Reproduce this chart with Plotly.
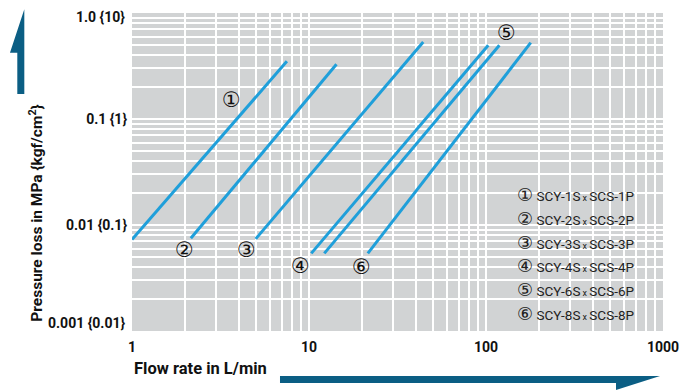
import math
import plotly.graph_objects as go

# 圧力損失特性 (log-log)
labels = ["①", "②", "③", "④", "⑤", "⑥"]
models = ["SCY-1S", "SCY-2S", "SCY-3S", "SCY-4S", "SCY-6S", "SCY-8S"]
partners = ["SCS-1P", "SCS-2P", "SCS-3P", "SCS-4P", "SCS-6P", "SCS-8P"]
flow_start = [1.0, 2.15, 5.0, 10.3, 12.2, 21.5]
flow_end = [7.5, 14.3, 44.2, 103, 119, 179]
dp_start = [0.0073, 0.0075, 0.0074, 0.0054, 0.0054, 0.0054]
dp_end = [0.350, 0.328, 0.532, 0.496, 0.496, 0.526]
# circled-number label anchor (flow, pressure)
label_flow = [3.66, 1.975, 4.41, 8.9, 131, 19.7]
label_dp = [0.152, 0.00577, 0.00577, 0.00408, 0.653, 0.00402]

x_ticks = [1, 10, 100, 1000]
x_ticktext = ["1", "10", "100", "1000"]
y_ticks = [0.01, 0.1]
y_ticktext = ["0.01 {0.1}", "0.1 {1}"]
# 上下端の目盛ラベルは枠内側に寄せて描く
y_edge_text = ["1.0 {10}", "0.001 {0.01}"]

BLUE = "#1f9fda"
NAVY = "#0b5e84"
GREY = "#d1d3d4"
FONT = "Roboto, Liberation Sans, sans-serif"
CIRC = "DejaVu Sans, Noto Sans CJK JP, sans-serif"


def full_grid(decades):
    vals = []
    for d in decades:
        for m in range(1, 10):
            vals.append(m * d)
    vals.append(decades[-1] * 10)
    return vals


xv = full_grid([1, 10, 100])
yv = full_grid([0.001, 0.01, 0.1])
xt = [x_ticktext[x_ticks.index(v)] if v in x_ticks else "" for v in xv]
yt = []
for v in yv:
    hit = [t for tv, t in zip(y_ticks, y_ticktext) if abs(tv - v) / tv < 1e-6]
    yt.append(hit[0] if hit else "")

fig = go.Figure()
for i in range(len(labels)):
    fig.add_trace(go.Scatter(
        x=[flow_start[i], flow_end[i]], y=[dp_start[i], dp_end[i]],
        mode="lines", line=dict(color=BLUE, width=3),
        showlegend=False, hoverinfo="skip",
    ))

ann = []
# 番号ラベル (log軸なので log10 で指定)
for i in range(len(labels)):
    ann.append(dict(x=math.log10(label_flow[i]), y=math.log10(label_dp[i]), xref="x", yref="y",
                    text=labels[i], showarrow=False,
                    font=dict(family=CIRC, size=21, color="#111")))

# 凡例 (右下)
for i in range(len(labels)):
    ann.append(dict(
        x=0.722, y=0.428 - i * 0.0745, xref="paper", yref="paper", xanchor="left", yanchor="middle",
        text=f"<span style='font-family:DejaVu Sans;font-size:18px'>{labels[i]}</span> {models[i]}"
             f"<span style='font-size:9px'> x </span>{partners[i]}",
        showarrow=False, font=dict(family=FONT, size=13.5, color="#222"),
    ))

for txt, yp in zip(y_edge_text, [0.987, 0.024]):
    ann.append(dict(x=-0.0094, y=yp, xref="paper", yref="paper", xanchor="right", yanchor="middle",
                    text=txt, showarrow=False,
                    font=dict(family=FONT, size=14, color="#111", weight="bold")))

ann.append(dict(x=-0.205, y=0.371, xref="paper", yref="paper", textangle=-90,
                text="Pressure loss in MPa {kgf/cm<sup>2</sup>}", showarrow=False,
                font=dict(family=FONT, size=15.5, color="#111", weight="bold")))
ann.append(dict(x=0.0, y=-0.154, xref="paper", yref="paper", xanchor="left",
                text="Flow rate in L/min", showarrow=False,
                font=dict(family=FONT, size=16.5, color="#111", weight="bold")))

shapes = [
    dict(type="path", xref="paper", yref="paper", layer="above",
         path="M -0.2028 1.0116 L -0.2298 0.8752 L -0.2160 0.8752 L -0.2160 0.7453 L -0.2028 0.7453 Z",
         fillcolor=NAVY, line=dict(width=0)),
    dict(type="path", xref="paper", yref="paper", layer="above",
         path="M 0.2787 -0.1415 L 0.9944 -0.1415 L 0.9115 -0.1855 L 0.9115 -0.1635 L 0.2787 -0.1635 Z",
         fillcolor=NAVY, line=dict(width=0)),
]

# ページ本体の余白 (8px) を差し引いたマージン
fig.update_layout(
    width=692, height=392,
    margin=dict(l=124, r=37, t=5, b=69, autoexpand=False),
    paper_bgcolor="white", plot_bgcolor=GREY,
    annotations=ann, shapes=shapes,
    font=dict(family=FONT, color="#111"),
)
fig.update_xaxes(type="log", range=[0, 3], tickvals=xv, ticktext=xt, automargin=False,
                 showgrid=True, gridcolor="white", gridwidth=1.6,
                 showline=False, zeroline=False, ticks="", ticklabelstandoff=6,
                 ticklabeloverflow="allow",
                 tickfont=dict(family=FONT, size=14, color="#111", weight="bold"))
fig.update_yaxes(type="log", range=[-3, 0], tickvals=yv, ticktext=yt, automargin=False,
                 showgrid=True, gridcolor="white", gridwidth=1.6,
                 showline=False, zeroline=False, ticks="", ticklabelstandoff=4,
                 ticklabeloverflow="allow",
                 tickfont=dict(family=FONT, size=14, color="#111", weight="bold"))

fig.write_html("out.html")
